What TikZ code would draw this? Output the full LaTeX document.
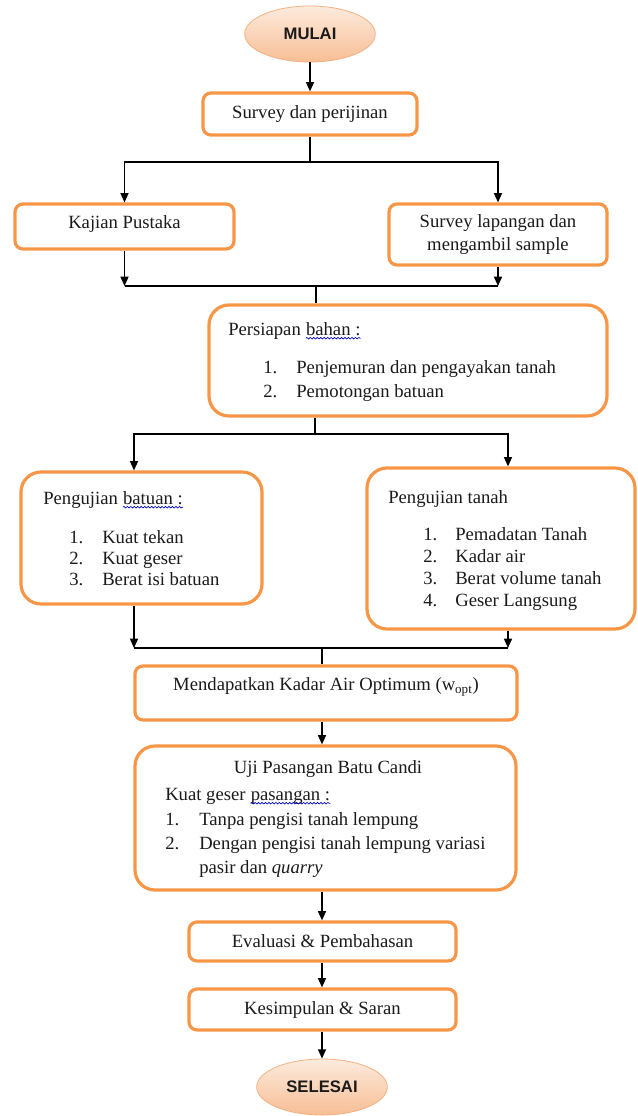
\documentclass[tikz,border=0pt]{standalone}
\usepackage{fontspec}
\setmainfont{Liberation Serif}
\newfontfamily\hsans{Liberation Sans}
\usetikzlibrary{arrows.meta,fit,shapes.geometric,decorations.pathmorphing}
\definecolor{bord}{HTML}{F79646}
\definecolor{ellb}{HTML}{F4B183}
\definecolor{elltop}{HTML}{FDEBDD}
\definecolor{ellbot}{HTML}{F7BE95}
\definecolor{ink}{HTML}{1A1A1A}
\begin{document}
\begin{tikzpicture}[x=0.75pt,y=-0.75pt,
  box/.style={draw=bord, line width=2.4pt, rounded corners=6pt, inner sep=0pt},
  bigbox/.style={box, rounded corners=15pt},
  term/.style={ellipse, draw=ellb, line width=0.6pt, top color=elltop, bottom color=ellbot,
               minimum width=98pt, minimum height=42pt, inner sep=0pt,
               font=\hsans\bfseries\fontsize{12.5}{14}\selectfont, text=ink},
  txt/.style={inner sep=0pt, anchor=base west, text=ink, font=\fontsize{14}{16}\selectfont},
  ctr/.style={inner sep=0pt, anchor=center, text=ink, align=center, font=\fontsize{14}{17}\selectfont},
  ln/.style={draw=black, line width=1.1pt},
  arr/.style={ln, -{Triangle[length=7pt,width=6pt]}},
  spell/.style={draw=blue!75!black, line width=0.5pt, decorate,
                decoration={snake, amplitude=0.6pt, segment length=2.6pt}}
]
\useasboundingbox (0,0) rectangle (638,1116);

% ---------- shapes ----------
\node[term] (mulai) at (310,34) {MULAI};
\node[box, fit={(203,93) (417,135)}] (sp) {};
\node[box, fit={(15,204) (234,249)}] (kp) {};
\node[box, fit={(389,204) (607,265)}] (sl) {};
\node[bigbox, fit={(209,305) (607,416)}] (pb) {};
\node[bigbox, fit={(21,472) (262,604)}] (bt) {};
\node[bigbox, fit={(367,468) (635,629)}] (tn) {};
\node[box, fit={(135,666) (517,720)}] (md) {};
\node[bigbox, fit={(135,746) (516,890)}] (uj) {};
\node[box, fit={(189,922) (456,961)}] (ev) {};
\node[box, fit={(189,989) (456,1030)}] (ks) {};
\node[term] (selesai) at (322,1087) {SELESAI};

% ---------- texts ----------
\node[ctr] (tsp) at (sp.center) {Survey dan perijinan};
\node[ctr] (tkp) at ([yshift=1.5pt]kp.center) {Kajian Pustaka};
\node[ctr] (tsl) at (sl.center) {Survey lapangan dan\\mengambil sample};

\node[txt] (ph1) at (228,335) {Persiapan};
\node[txt] (ph2) at ([xshift=3.5pt]ph1.base east) {bahan :};
\node[txt] (pn1) at (263,373) {1.};
\node[txt] (pi1) at (296,373) {Penjemuran dan pengayakan tanah};
\node[txt] (pn2) at (263,397) {2.};
\node[txt] (pi2) at (296,397) {Pemotongan batuan};

\node[txt] (bh1) at (43,504) {Pengujian};
\node[txt] (bh2) at ([xshift=3.5pt]bh1.base east) {batuan :};
\node[txt] (bn1) at (69,543) {1.};
\node[txt] (bi1) at (102,543) {Kuat tekan};
\node[txt] (bn2) at (69,564) {2.};
\node[txt] (bi2) at (102,564) {Kuat geser};
\node[txt] (bn3) at (69,585) {3.};
\node[txt] (bi3) at (102,585) {Berat isi batuan};

\node[txt] (th1) at (388,503) {Pengujian tanah};
\node[txt] (tn1) at (423,540) {1.};
\node[txt] (ti1) at (455,540) {Pemadatan Tanah};
\node[txt] (tn2) at (423,562) {2.};
\node[txt] (ti2) at (455,562) {Kadar air};
\node[txt] (tn3) at (423,584) {3.};
\node[txt] (ti3) at (455,584) {Berat volume tanah};
\node[txt] (tn4) at (423,606) {4.};
\node[txt] (ti4) at (455,606) {Geser Langsung};

\node[ctr] (tmd) at (326,687) {Mendapatkan Kadar Air Optimum (w\textsubscript{opt})};

\node[txt, anchor=base] (uh) at (328,773) {Uji Pasangan Batu Candi};
\node[txt] (uk1) at (165,800) {Kuat geser};
\node[txt] (uk2) at ([xshift=3.5pt]uk1.base east) {pasangan :};
\node[txt] (un1) at (165,825) {1.};
\node[txt] (ui1) at (199,825) {Tanpa pengisi tanah lempung};
\node[txt] (un2) at (165,849) {2.};
\node[txt] (ui2) at (199,849) {Dengan pengisi tanah lempung variasi};
\node[txt] (ui3) at (199,873) {pasir dan \textit{quarry}};

\node[ctr] (tev) at (ev.center) {Evaluasi \& Pembahasan};
\node[ctr] (tks) at (ks.center) {Kesimpulan \& Saran};

% spell-check underlines
\draw[spell] ([yshift=-2.4pt]ph2.base west) -- ([yshift=-2.4pt]ph2.base east);
\draw[spell] ([yshift=-2.4pt]bh2.base west) -- ([yshift=-2.4pt]bh2.base east);
\draw[spell] ([yshift=-2.4pt]uk2.base west) -- ([yshift=-2.4pt]uk2.base east);

% ---------- connectors ----------
\coordinate (j1) at (310,162);
\coordinate (j2) at (316,286);
\coordinate (j3) at (315,434);
\coordinate (j4) at (322,648);
\coordinate (xb) at (134,0);
\coordinate (xt) at (508,0);
\coordinate (xc) at (322,0);

\draw[arr] (mulai.south) -- (sp.north);
\draw[ln] (sp.south) -- (j1);
\draw[arr] (j1) -| (kp.north);
\draw[arr] (j1) -| (sl.north);

\draw[arr] (kp.south) -- (kp.south |- j2);
\draw[arr] (sl.south) -- (sl.south |- j2);
\draw[ln] (kp.south |- j2) -- (sl.south |- j2);
\draw[ln] (j2) -- (j2 |- pb.north);

\draw[ln] (j3 |- pb.south) -- (j3);
\draw[arr] (j3) -| (xb |- bt.north);
\draw[arr] (j3) -| (xt |- tn.north);

\draw[arr] (xb |- bt.south) -- (xb |- j4);
\draw[arr] (xt |- tn.south) -- (xt |- j4);
\draw[ln] (xb |- j4) -- (xt |- j4);
\draw[ln] (j4) -- (j4 |- md.north);

\draw[arr] (xc |- md.south) -- (xc |- uj.north);
\draw[arr] (xc |- uj.south) -- (xc |- ev.north);
\draw[arr] (xc |- ev.south) -- (xc |- ks.north);
\draw[arr] (xc |- ks.south) -- (selesai.north);
\end{tikzpicture}
\end{document}
